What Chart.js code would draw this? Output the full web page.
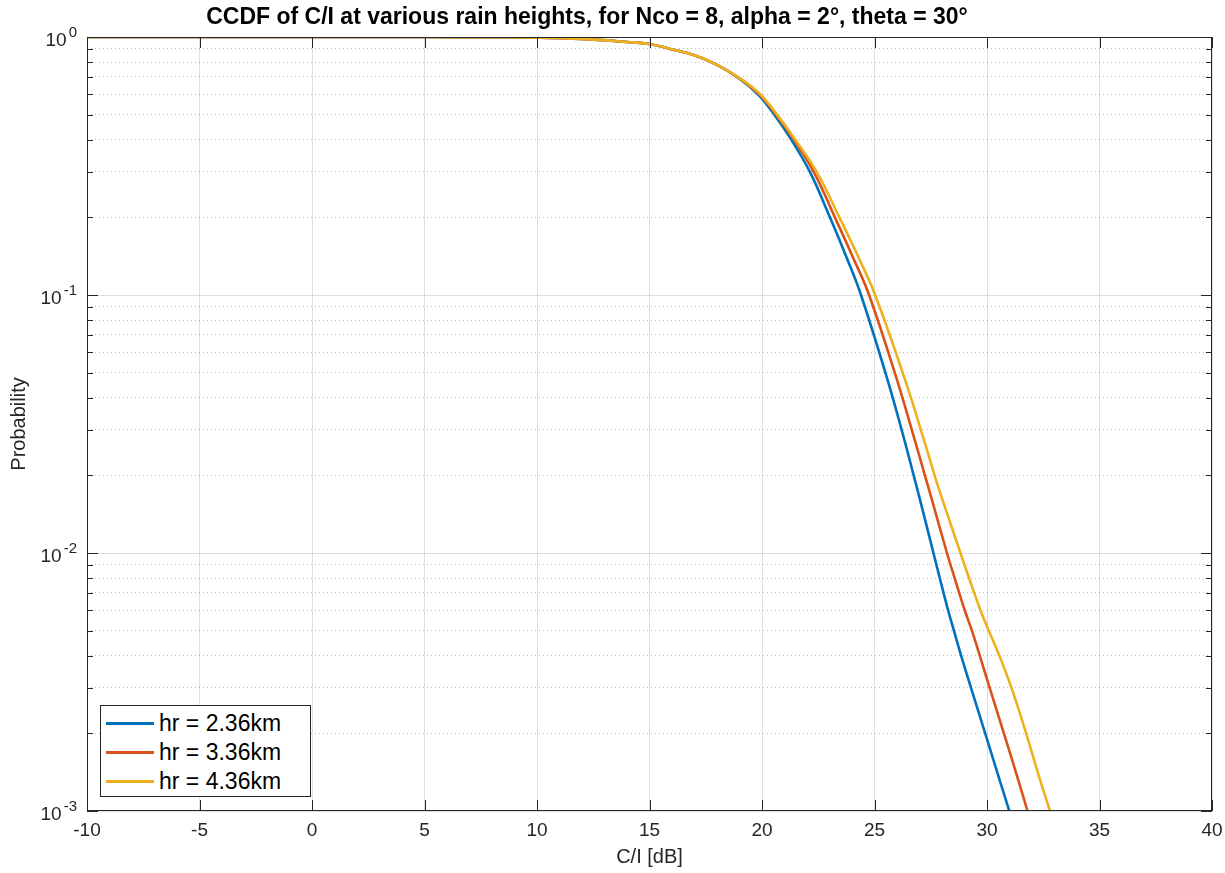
<!DOCTYPE html>
<html>
<head>
<meta charset="utf-8">
<script src="https://cdn.jsdelivr.net/npm/chart.js@4/dist/chart.umd.min.js"></script>
<style>
  html, body { margin: 0; padding: 0; background: #fff; }
  #wrap { position: relative; width: 1225px; height: 873px; }
  #legend {
    position: absolute; left: 100px; top: 705px; width: 209px; height: 90px;
    border: 1px solid #262626; background: #fff;
    font-family: "Liberation Sans", Arial, Helvetica, sans-serif; font-size: 23px; color: #000;
  }
  #legend .row { position: absolute; left: 5px; height: 26px; line-height: 26px; white-space: nowrap; }
  #legend .sw { display: inline-block; width: 48px; height: 3px; vertical-align: middle; margin-right: 5px; position: relative; top: -1px; }
</style>
</head>
<body>
<div id="wrap">
  <canvas id="c" width="1225" height="873"></canvas>
  <div id="legend"></div>
</div>
<script>
// CCDF of C/I — three rain heights
const seriesNames = ['hr = 2.36km', 'hr = 3.36km', 'hr = 4.36km'];
const seriesColors = ['#0072BD', '#D95319', '#EDB120'];

// probability levels shared by the three curves
const probLevels = [1, 1, 0.9995, 0.998, 0.995, 0.983, 0.957, 0.94, 0.895, 0.85, 0.78, 0.69,
  0.6, 0.5, 0.4, 0.3, 0.2, 0.137, 0.1, 0.0469, 0.0274, 0.02, 0.016, 0.01,
  0.008, 0.006, 0.005, 0.004, 0.003, 0.002, 0.0014, 0.001];

// C/I [dB] where each curve reaches the level above
const ciHr236 = [-10, 0, 5, 8, 10, 12, 14, 15, 16, 17, 18, 19,
  19.82, 20.55, 21.3, 22.13, 23.02, 23.8, 24.4, 25.58, 26.33, 26.74, 27.03, 27.62,
  27.9, 28.27, 28.53, 28.85, 29.29, 29.92, 30.47, 30.99];
const ciHr336 = [-10, 0, 5, 8, 10, 12, 14, 15, 16, 17, 18, 19.02,
  19.88, 20.63, 21.42, 22.3, 23.24, 24.09, 24.76, 26.0, 26.79, 27.24, 27.56, 28.22,
  28.56, 29.01, 29.33, 29.68, 30.12, 30.75, 31.3, 31.8];
const ciHr436 = [-10, 0, 5, 8, 10, 12, 14, 15, 16, 17, 18, 19.04,
  19.92, 20.67, 21.48, 22.43, 23.44, 24.34, 25.03, 26.36, 27.2, 27.67, 28.03, 28.82,
  29.2, 29.71, 30.08, 30.55, 31.09, 31.74, 32.27, 32.8];

const xTicks = [-10, -5, 0, 5, 10, 15, 20, 25, 30, 35, 40];
const yDecades = [1, 0.1, 0.01, 0.001];
const yExponents = ['0', '-1', '-2', '-3'];

const FONT = '"Liberation Sans", Arial, Helvetica, sans-serif';
const INK = '#262626';

function isDecade(v) {
  if (v == null) return false;
  const l = Math.log10(v);
  return Math.abs(l - Math.round(l)) < 1e-6;
}

function toPoints(xs) { return xs.map((x, i) => ({ x, y: probLevels[i] })); }

// box, inward tick marks, y labels with exponents, title
const matlabAxes = {
  id: 'matlabAxes',
  afterDraw(chart) {
    const { ctx, chartArea: a, scales: { x, y } } = chart;
    ctx.save();
    ctx.strokeStyle = INK;
    ctx.lineWidth = 1;
    ctx.beginPath();
    xTicks.forEach(v => {
      const px = Math.round(x.getPixelForValue(v)) + 0.5;
      ctx.moveTo(px, a.bottom); ctx.lineTo(px, a.bottom - 11);
      ctx.moveTo(px, a.top); ctx.lineTo(px, a.top + 11);
    });
    y.ticks.forEach(t => {
      const py = Math.round(y.getPixelForValue(t.value)) + 0.5;
      const len = isDecade(t.value) ? 11 : 6;
      ctx.moveTo(a.left, py); ctx.lineTo(a.left + len, py);
      ctx.moveTo(a.right, py); ctx.lineTo(a.right - len, py);
    });
    ctx.stroke();
    ctx.strokeRect(Math.round(a.left) + 0.5, Math.round(a.top) + 0.5,
      Math.round(a.right - a.left) - 1, Math.round(a.bottom - a.top) - 1);

    ctx.fillStyle = INK;
    ctx.textBaseline = 'middle';
    yDecades.forEach((v, i) => {
      const py = y.getPixelForValue(v);
      ctx.font = '15px ' + FONT;
      const w = ctx.measureText(yExponents[i]).width;
      ctx.textAlign = 'left';
      ctx.fillText(yExponents[i], 77 - w, py - 4.5);
      ctx.font = '19px ' + FONT;
      ctx.textAlign = 'right';
      ctx.fillText('10', 77 - w - 2, py + 4);
    });

    ctx.fillStyle = '#000';
    ctx.font = 'bold 23px ' + FONT;
    ctx.textAlign = 'center';
    ctx.fillText('CCDF of C/I at various rain heights, for Nco = 8, alpha = 2°, theta = 30°', 587, 18);
    ctx.restore();
  }
};

const datasets = [ciHr236, ciHr336, ciHr436].map((xs, i) => ({
  label: seriesNames[i],
  data: toPoints(xs),
  borderColor: seriesColors[i],
  backgroundColor: seriesColors[i],
  borderWidth: 2.6,
  pointRadius: 0,
  tension: 0.4,
  fill: false,
  order: 3 - i,
}));

new Chart(document.getElementById('c'), {
  type: 'line',
  data: { datasets },
  plugins: [matlabAxes],
  options: {
    responsive: false,
    animation: false,
    layout: { padding: { left: 0, right: 13, top: 37, bottom: 0 } },
    plugins: { legend: { display: false }, tooltip: { enabled: false } },
    scales: {
      x: {
        type: 'linear', min: -10, max: 40,
        afterBuildTicks: s => { s.ticks = xTicks.map(v => ({ value: v })); },
        afterFit: s => { s.height = 62; s.paddingLeft = 0; s.paddingRight = 0; },
        ticks: { color: INK, font: { family: FONT, size: 19 }, padding: 8, maxRotation: 0 },
        grid: { color: 'rgba(38,38,38,0.15)', lineWidth: 1, drawTicks: false },
        border: { display: false },
        title: { display: true, text: 'C/I [dB]', color: INK, font: { family: FONT, size: 20 }, padding: { top: 0, bottom: 4 } },
      },
      y: {
        type: 'logarithmic', min: 0.001, max: 1,
        afterBuildTicks: s => {
          const t = [];
          [0.001, 0.01, 0.1].forEach(d => { for (let k = 1; k <= 9; k++) t.push({ value: +(d * k).toPrecision(3) }); });
          t.push({ value: 1 });
          s.ticks = t;
        },
        afterFit: s => { s.width = 87; s.paddingTop = 0; s.paddingBottom = 0; },
        ticks: { display: false },
        grid: {
          color: ctx => isDecade(ctx.tick && ctx.tick.value) ? 'rgba(38,38,38,0.15)' : 'rgba(38,38,38,0.3)',
          lineWidth: 1, drawTicks: false,
        },
        border: { display: false, dash: ctx => (ctx.tick && !isDecade(ctx.tick.value)) ? [1, 3] : [] },
        title: { display: true, text: 'Probability', color: INK, font: { family: FONT, size: 20 }, padding: { top: 7, bottom: 0 } },
      },
    },
  },
});

// legend inside the axes, lower left
const leg = document.getElementById('legend');
leg.innerHTML = seriesNames.map((n, i) =>
  `<div class="row" style="top:${4 + i * 29}px"><span class="sw" style="background:${seriesColors[i]}"></span>${n}</div>`
).join('');
</script>
</body>
</html>
